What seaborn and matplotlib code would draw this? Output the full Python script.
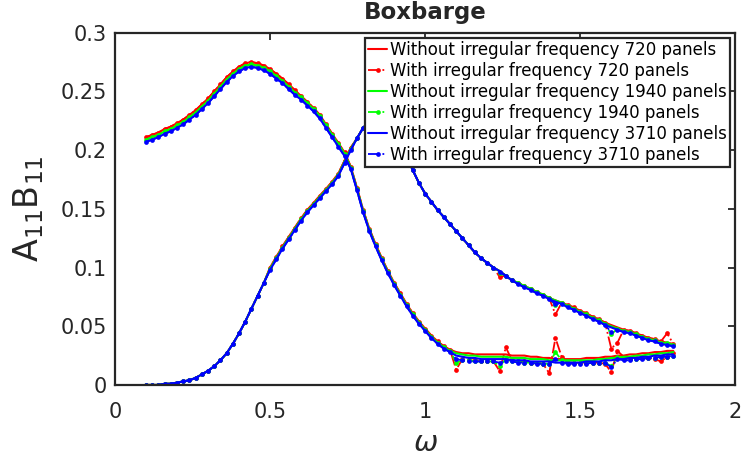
import numpy as np
import matplotlib
matplotlib.use('Agg')
import matplotlib.pyplot as plt
import seaborn as sns

# frequency grid (rad/s)
omega = [0.10, 0.12, 0.14, 0.16, 0.18, 0.20, 0.22, 0.24, 0.26, 0.28,
         0.30, 0.32, 0.34, 0.36, 0.38, 0.40, 0.42, 0.44, 0.46, 0.48,
         0.50, 0.52, 0.54, 0.56, 0.58, 0.60, 0.62, 0.64, 0.66, 0.68,
         0.70, 0.72, 0.74, 0.76, 0.78, 0.80, 0.82, 0.84, 0.86, 0.88,
         0.90, 0.92, 0.94, 0.96, 0.98, 1.00, 1.02, 1.04, 1.06, 1.08,
         1.10, 1.12, 1.14, 1.16, 1.18, 1.20, 1.22, 1.24, 1.26, 1.28,
         1.30, 1.32, 1.34, 1.36, 1.38, 1.40, 1.42, 1.44, 1.46, 1.48,
         1.50, 1.52, 1.54, 1.56, 1.58, 1.60, 1.62, 1.64, 1.66, 1.68,
         1.70, 1.72, 1.74, 1.76, 1.78, 1.80]

# added mass A11, without irregular frequency
A_720 = [.211, .213, .215, .218, .220, .223, .226, .230, .234, .239,
         .244, .250, .256, .262, .267, .271, .274, .275, .274, .272,
         .269, .265, .261, .256, .251, .246, .241, .236, .230, .222,
         .214, .206, .198, .186, .168, .149, .133, .120, .108, .097,
         .087, .078, .069, .061, .054, .048, .042, .037, .033, .030,
         .028, .027, .027, .026, .026, .026, .026, .026, .026, .025,
         .025, .025, .024, .024, .023, .023, .022, .022, .022, .022,
         .022, .023, .023, .023, .024, .024, .025, .025, .026, .026,
         .027, .027, .028, .028, .029, .029]
A_1940 = [.209, .211, .213, .216, .218, .221, .224, .228, .232, .237,
          .242, .248, .254, .260, .265, .269, .272, .273, .272, .270,
          .267, .263, .259, .254, .249, .245, .240, .235, .229, .221,
          .213, .205, .197, .185, .167, .148, .132, .119, .107, .096,
          .086, .077, .068, .060, .053, .047, .041, .036, .032, .029,
          .027, .026, .025, .025, .024, .024, .024, .024, .024, .023,
          .023, .023, .022, .022, .022, .021, .021, .021, .021, .021,
          .021, .021, .021, .022, .022, .023, .023, .024, .024, .025,
          .025, .026, .026, .027, .027, .028]
A_3710 = [.207, .209, .211, .214, .216, .219, .222, .226, .230, .235,
          .240, .246, .252, .258, .263, .267, .270, .271, .270, .268,
          .265, .261, .257, .252, .247, .243, .238, .233, .227, .219,
          .211, .203, .195, .184, .166, .147, .131, .118, .106, .095,
          .085, .076, .067, .059, .052, .046, .040, .035, .031, .028,
          .025, .024, .023, .023, .022, .022, .022, .022, .022, .021,
          .021, .021, .020, .020, .020, .020, .019, .019, .019, .019,
          .019, .020, .020, .020, .021, .021, .022, .022, .023, .023,
          .024, .024, .025, .025, .026, .026]

# damping B11, without irregular frequency
B_720 = [.000, .000, .000, .001, .001, .002, .003, .004, .006, .009,
         .012, .016, .021, .027, .035, .044, .054, .065, .076, .087,
         .100, .109, .118, .126, .134, .142, .149, .155, .161, .167,
         .173, .180, .191, .202, .210, .219, .225, .228, .228, .224,
         .216, .206, .195, .183, .172, .163, .156, .149, .143, .137,
         .131, .125, .119, .113, .108, .104, .100, .097, .093, .089,
         .087, .084, .082, .079, .077, .074, .072, .070, .068, .066,
         .063, .061, .058, .056, .053, .051, .049, .047, .046, .044,
         .042, .040, .039, .037, .036, .035]
B_1940 = [.000, .000, .000, .001, .001, .002, .003, .004, .006, .009,
          .012, .016, .021, .027, .035, .044, .054, .065, .076, .087,
          .099, .108, .117, .125, .133, .141, .148, .154, .160, .166,
          .172, .179, .190, .201, .210, .219, .225, .228, .228, .224,
          .216, .206, .195, .183, .172, .163, .156, .149, .143, .137,
          .131, .125, .119, .113, .108, .104, .100, .097, .093, .089,
          .087, .084, .082, .079, .077, .074, .072, .070, .067, .065,
          .062, .060, .057, .055, .052, .050, .048, .046, .045, .043,
          .041, .039, .038, .036, .035, .034]
B_3710 = [.000, .000, .000, .001, .001, .002, .003, .004, .006, .009,
          .012, .016, .021, .027, .035, .044, .054, .065, .076, .087,
          .098, .107, .116, .124, .132, .140, .147, .153, .159, .165,
          .171, .178, .189, .200, .210, .219, .225, .228, .228, .224,
          .216, .206, .195, .183, .172, .163, .156, .149, .143, .137,
          .131, .125, .119, .113, .108, .104, .100, .097, .093, .089,
          .086, .083, .081, .078, .076, .073, .071, .069, .066, .064,
          .061, .059, .056, .054, .051, .049, .047, .045, .044, .042,
          .040, .038, .037, .035, .034, .033]

# with irregular frequency: same up to 1.08, own values from 1.10 on
A_720_irr = A_720[:50] + [
    .013, .022, .021, .021, .020, .020, .020, .012, .032, .021,
    .020, .020, .019, .019, .018, .010, .040, .024, .019, .019,
    .019, .019, .019, .019, .018, .011, .029, .024, .023, .023,
    .023, .023, .022, .020, .024, .027]
A_1940_irr = A_1940[:50] + [
    .019, .021, .021, .020, .020, .020, .020, .016, .022, .020,
    .020, .019, .019, .019, .018, .018, .028, .021, .019, .019,
    .019, .019, .019, .019, .019, .016, .024, .022, .022, .022,
    .023, .023, .023, .024, .024, .025]
A_3710_irr = A_3710[:50] + [
    .022, .021, .020, .020, .020, .020, .020, .019, .020, .020,
    .019, .019, .019, .018, .018, .018, .022, .019, .018, .018,
    .018, .018, .019, .019, .019, .015, .022, .021, .021, .022,
    .022, .023, .023, .024, .024, .025]
B_720_irr = B_720[:50] + [
    .131, .125, .119, .113, .108, .104, .100, .092, .093, .089,
    .087, .084, .082, .079, .077, .074, .060, .070, .068, .066,
    .063, .061, .058, .056, .053, .031, .036, .047, .046, .044,
    .042, .040, .039, .037, .044, .035]
B_1940_irr = B_1940[:50] + [
    .131, .125, .119, .113, .108, .104, .100, .095, .093, .089,
    .087, .084, .082, .079, .077, .074, .068, .070, .067, .065,
    .062, .060, .057, .055, .052, .043, .048, .046, .045, .043,
    .041, .039, .038, .036, .036, .034]
B_3710_irr = B_3710[:50] + [
    .131, .125, .119, .113, .108, .104, .100, .096, .093, .089,
    .086, .083, .081, .078, .076, .073, .069, .069, .066, .064,
    .061, .059, .056, .054, .051, .045, .047, .045, .044, .042,
    .040, .038, .037, .035, .034, .033]

meshes = ['720', '1940', '3710']
colors = ['#ff0000', '#00ff00', '#0000ff']
A_without = [A_720, A_1940, A_3710]
B_without = [B_720, B_1940, B_3710]
A_with = [A_720_irr, A_1940_irr, A_3710_irr]
B_with = [B_720_irr, B_1940_irr, B_3710_irr]

sns.set_style('white')
plt.rcParams['font.family'] = ['DejaVu Sans']
plt.rcParams['mathtext.fontset'] = 'dejavusans'
dark = '#262626'

fig = plt.figure(figsize=(7.42, 4.61), dpi=100)
ax = fig.add_axes([0.155, 0.165, 0.836, 0.764])

for i in range(3):
    c = colors[i]
    sns.lineplot(x=omega, y=A_without[i], color=c, lw=1.5, sort=False,
                 label='Without irregular frequency %s panels' % meshes[i], ax=ax)
    sns.lineplot(x=omega, y=B_without[i], color=c, lw=1.5, sort=False, ax=ax)
    sns.lineplot(x=omega, y=A_with[i], color=c, lw=1.3, linestyle='-.',
                 marker='o', markersize=3.4, markeredgewidth=0, sort=False,
                 label='With irregular frequency %s panels' % meshes[i], ax=ax)
    sns.lineplot(x=omega, y=B_with[i], color=c, lw=1.3, linestyle='-.',
                 marker='o', markersize=3.4, markeredgewidth=0, sort=False, ax=ax)

ax.set_xlim(0, 2)
ax.set_ylim(0, 0.3)
ax.set_xticks([0, 0.5, 1, 1.5, 2])
ax.set_xticklabels(['0', '0.5', '1', '1.5', '2'])
ax.set_yticks([0, 0.05, 0.1, 0.15, 0.2, 0.25, 0.3])
ax.set_yticklabels(['0', '0.05', '0.1', '0.15', '0.2', '0.25', '0.3'])
ax.tick_params(direction='in', top=True, right=True, length=5, width=1.3,
               labelsize=15, colors=dark)
ax.tick_params(axis='x', pad=12)
ax.tick_params(axis='y', pad=6)
for s in ax.spines.values():
    s.set_color(dark)
    s.set_linewidth(1.6)

ax.set_title('Boxbarge', fontsize=16.5, fontweight='bold', pad=10)
ax.set_xlabel(r'$\omega$', fontsize=21, color=dark, labelpad=5)
ax.set_ylabel(r'$\mathrm{A}_{11}\mathrm{B}_{11}$', fontsize=24, color=dark, labelpad=10)

leg = ax.legend(loc='upper right', fontsize=12, frameon=True, fancybox=False,
                framealpha=1, edgecolor=dark, borderaxespad=0.3, borderpad=0.2,
                labelspacing=0.18, handlelength=1.1, handletextpad=0.2)
leg.get_frame().set_linewidth(1.6)
for t in leg.get_texts():
    t.set_color('black')

fig.savefig('out.png', dpi=100)
